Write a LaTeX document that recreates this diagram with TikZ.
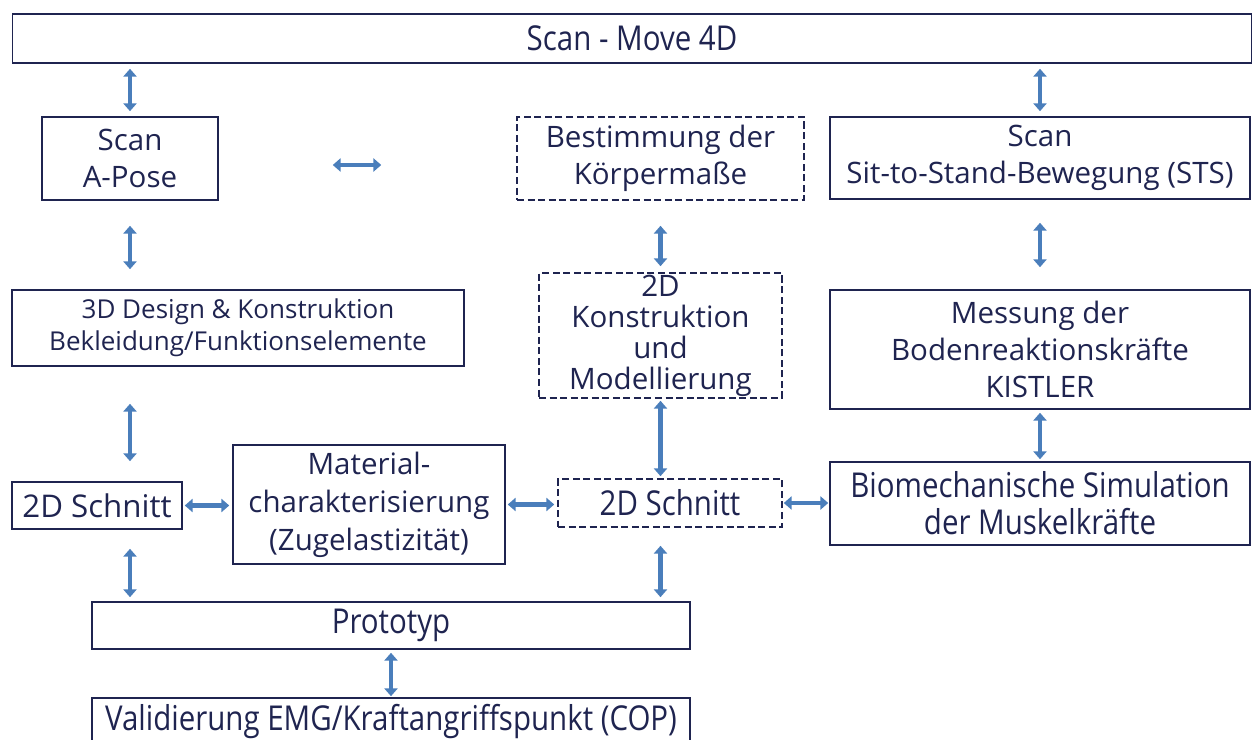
\documentclass[tikz,border=0pt]{standalone}
\usepackage{fontspec}
\setmainfont{Open Sans}
\newfontfamily\condfont{Open Sans}[FakeStretch=0.86]
\usetikzlibrary{arrows.meta}
\definecolor{navy}{RGB}{31,36,80}
\definecolor{arrowblue}{RGB}{74,126,187}
\tikzstyle{block} = [rectangle, draw=navy, line width=0.9pt, text=navy, align=center, inner sep=0pt, font=\fontsize{16.8}{21}\selectfont]
\tikzstyle{dblock} = [block, dash pattern=on 4pt off 2pt]
\tikzstyle{cond} = [font=\condfont\fontsize{19.5}{21}\selectfont]
\tikzstyle{dblarrow} = [draw=arrowblue, line width=2.8pt, {Triangle[width=7.5pt,length=4.5pt]}-{Triangle[width=7.5pt,length=4.5pt]}]

\begin{document}
\begin{tikzpicture}[x=0.02cm, y=-0.02cm]
      \useasboundingbox (0,0) rectangle (1252,740);
      \node (scan4d) [block, cond, minimum width=24.78cm, minimum height=0.98cm] at (632,38.5) {Scan - Move 4D};
      \node (apose) [block, minimum width=3.52cm, minimum height=1.66cm] at (130,158.5) {Scan\\A-Pose};
      \node (masse) [dblock, minimum width=5.74cm, minimum height=1.66cm] at (660.5,158.5) {Bestimmung der\\Körpermaße};
      \node (sts) [block, minimum width=8.4cm, minimum height=1.64cm] at (1040,158) {Scan\\Sit-to-Stand-Bewegung (STS)};
      \node (design) [block, minimum width=9.04cm, minimum height=1.52cm, font=\fontsize{14.8}{18}\selectfont] at (238,328) {3D Design \& Konstruktion\\Bekleidung/Funktionselemente};
      \node (konstr) [dblock, minimum width=4.86cm, minimum height=2.5cm, font=\fontsize{16.8}{17.6}\selectfont] at (660.5,335.5) {2D\\Konstruktion\\und\\Modellierung};
      \node (messung) [block, minimum width=8.4cm, minimum height=2.38cm] at (1040,349.5) {Messung der\\Bodenreaktionskräfte\\KISTLER};
      \node (schnittL) [block, minimum width=3.4cm, minimum height=0.94cm, font=\fontsize{17.8}{21}\selectfont] at (97,505.5) {2D Schnitt};
      \node (material) [block, minimum width=5.44cm, minimum height=2.38cm, font=\fontsize{16.8}{21.6}\selectfont] at (369,504.5) {Material-\\charakterisierung\\(Zugelastizität)};
      \node (schnittM) [dblock, cond, minimum width=4.48cm, minimum height=0.96cm] at (670,503) {2D Schnitt};
      \node (biomech) [block, cond, minimum width=8.4cm, minimum height=1.66cm] at (1040,503.5) {Biomechanische Simulation\\der Muskelkräfte};
      \node (proto) [block, cond, minimum width=11.96cm, minimum height=0.94cm] at (391,625.5) {Prototyp};
      \node (valid) [block, cond, minimum width=11.96cm, minimum height=0.94cm] at (391,721.5) {Validierung EMG/Kraftangriffspunkt (COP)};

      % vertical connections
      \draw[dblarrow, shorten <=0.1cm, shorten >=0.1cm] (apose.north |- scan4d.south) -- (apose.north);
      \draw[dblarrow, shorten <=0.1cm, shorten >=0.1cm] (sts.north |- scan4d.south) -- (sts.north);
      \draw[dblarrow, shorten <=0.5cm, shorten >=0.4cm] (apose.south) -- (apose.south |- design.north);
      \draw[dblarrow, shorten <=0.5cm, shorten >=0.12cm] (masse.south) -- (masse.south |- konstr.north);
      \draw[dblarrow, shorten <=0.46cm, shorten >=0.44cm] (sts.south) -- (messung.north);
      \draw[dblarrow, shorten <=0.74cm, shorten >=0.4cm] (apose.south |- design.south) -- (apose.south |- schnittL.north);
      \draw[dblarrow, shorten <=0.04cm, shorten >=0.04cm] (konstr.south) -- (konstr.south |- schnittM.north);
      \draw[dblarrow, shorten <=0.06cm, shorten >=0.04cm] (messung.south) -- (biomech.north);
      \draw[dblarrow, shorten <=0.38cm, shorten >=0.08cm] (apose.south |- schnittL.south) -- (apose.south |- proto.north);
      \draw[dblarrow, shorten <=0.36cm, shorten >=0.08cm] (konstr.south |- schnittM.south) -- (konstr.south |- proto.north);
      \draw[dblarrow, shorten <=0.06cm, shorten >=0.02cm] (proto.south) -- (valid.north);

      % horizontal connections
      \draw[dblarrow, shorten <=2.28cm, shorten >=2.7cm] ([yshift=-0.13cm]apose.east) -- ([yshift=-0.13cm]apose.east -| masse.west);
      \draw[dblarrow, shorten <=0.04cm, shorten >=0.06cm] (schnittL.east) -- (schnittL.east -| material.west);
      \draw[dblarrow, shorten <=0.04cm, shorten >=0.06cm] (material.east) -- (material.east -| schnittM.west);
      \draw[dblarrow, shorten <=0.02cm, shorten >=0.02cm] (schnittM.east) -- (schnittM.east -| biomech.west);
\end{tikzpicture}
\end{document}
